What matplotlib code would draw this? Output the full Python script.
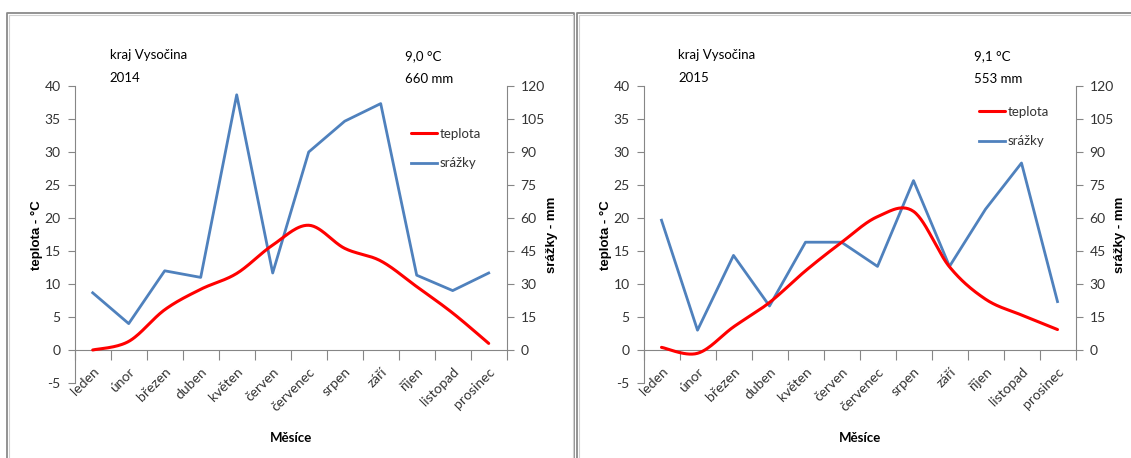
import numpy as np
import matplotlib
matplotlib.use("Agg")
import matplotlib.pyplot as plt
from matplotlib.lines import Line2D

plt.rcParams["axes.unicode_minus"] = False

# Monthly climate data, kraj Vysočina
months = ["leden", "únor", "březen", "duben", "květen", "červen",
          "červenec", "srpen", "září", "říjen", "listopad", "prosinec"]

temp_2014 = [0.0, 1.3, 6.1, 9.2, 11.6, 15.9, 18.9, 15.4, 13.5, 9.6, 5.6, 1.0]
rain_2014 = [26, 12, 36, 33, 116, 35, 90, 104, 112, 34, 27, 35]
temp_2015 = [0.4, -0.5, 3.5, 7.2, 12.0, 16.3, 20.2, 21.0, 12.6, 7.7, 5.3, 3.1]
rain_2015 = [59, 9, 43, 20, 49, 49, 38, 77, 38, 64, 85, 22]

years = ["2014", "2015"]
mean_temp = ["9,0 °C", "9,1 °C"]
total_rain = ["660 mm", "553 mm"]

W, H = 1131, 458
RED = "#FF0000"
BLUE = "#4F81BD"
AXIS_GREY = "#868686"
TXT = "#333333"
FONT = "Lato"
BOLD_FONT = "Liberation Sans"


def smooth(x, y, n=30):
    """Cardinal (Catmull-Rom) Bezier smoothing like office chart 'smoothed line'."""
    x = np.asarray(x, float)
    y = np.asarray(y, float)
    P = np.column_stack([x, y])
    Pe = np.vstack([P[0], P, P[-1]])
    out = []
    t = np.linspace(0, 1, n)[:, None]
    for i in range(len(P) - 1):
        p0, p1, p2, p3 = Pe[i], Pe[i + 1], Pe[i + 2], Pe[i + 3]
        c1 = p1 + (p2 - p0) / 6.0
        c2 = p2 - (p3 - p1) / 6.0
        seg = ((1 - t) ** 3) * p1 + 3 * ((1 - t) ** 2) * t * c1 \
            + 3 * (1 - t) * t ** 2 * c2 + t ** 3 * p2
        out.append(seg if i == 0 else seg[1:])
    s = np.vstack(out)
    return s[:, 0], s[:, 1]


def fx(px):
    return px / W


def fy(py):
    return 1 - py / H


fig = plt.figure(figsize=(W / 100, H / 100), dpi=100)

# panel frames
for (x0, x1) in [(7, 574), (577, 1135)]:
    for off, col, lw in [(0, "#8a8a8a", 1.3), (1.5, "#d0d0d0", 0.8)]:
        fig.add_artist(Line2D([fx(x0 + off), fx(x0 + off), fx(x1 - off), fx(x1 - off)],
                              [fy(470), fy(13 + off), fy(13 + off), fy(470)],
                              color=col, lw=lw, transform=fig.transFigure))

panels = [
    dict(ax_left=74.7, temp=temp_2014, rain=rain_2014, leg=(411, 128)),
    dict(ax_left=643.5, temp=temp_2015, rain=rain_2015, leg=(979, 106)),
]

for k, p in enumerate(panels):
    left = p["ax_left"]
    ax = fig.add_axes([fx(left), fy(383), 432 / W, (383 - 86) / H])
    ax2 = ax.twinx()

    x = np.arange(12)
    sx, sy = smooth(x, p["temp"])
    l1, = ax.plot(sx, sy, color=RED, lw=2.2, solid_capstyle="round", zorder=3,
                  label="teplota")
    l2, = ax2.plot(x, p["rain"], color=BLUE, lw=2.0, zorder=2, label="srážky")

    ax.set_xlim(-0.5, 11.5)
    ax.set_ylim(-5, 40)
    ax2.set_ylim(-15, 120)
    ax.set_zorder(ax2.get_zorder() + 1)
    ax.patch.set_visible(False)

    for a in (ax, ax2):
        for s in a.spines.values():
            s.set_visible(False)

    ax.spines["left"].set_visible(True)
    ax.spines["left"].set_color(AXIS_GREY)
    ax.spines["left"].set_bounds(-5, 40)
    ax.spines["bottom"].set_visible(True)
    ax.spines["bottom"].set_position(("data", 0))
    ax.spines["bottom"].set_color(AXIS_GREY)

    ax.set_yticks(np.arange(-5, 41, 5))
    ax.tick_params(axis="y", direction="out", length=5, width=0.8, color=AXIS_GREY,
                   pad=5, labelsize=10, labelcolor=TXT)

    ax.set_xticks(np.arange(-0.5, 12, 1))
    ax.set_xticklabels([])
    ax.tick_params(axis="x", which="major", direction="out", length=7, width=0.8,
                   color=AXIS_GREY)
    ax.set_xticks(x, minor=True)
    ax.set_xticklabels(months, minor=True, rotation=45, ha="right", va="top",
                       rotation_mode="anchor")
    ax.tick_params(axis="x", which="minor", length=0, pad=11, labelsize=10,
                   labelcolor=TXT)

    ax2.spines["right"].set_visible(True)
    ax2.spines["right"].set_color(AXIS_GREY)
    ax2.spines["right"].set_bounds(0, 120)
    ax2.set_yticks(np.arange(0, 121, 15))
    ax2.tick_params(axis="y", direction="out", length=5, width=0.8, color=AXIS_GREY,
                    pad=5, labelsize=10, labelcolor=TXT)

    for lab in ax.get_yticklabels() + ax2.get_yticklabels() + ax.get_xticklabels(minor=True):
        lab.set_family(FONT)

    # axis titles
    fig.text(fx(left - 38), fy(235), "teplota - °C", rotation=90, ha="center",
             va="center", family=BOLD_FONT, weight="bold", fontsize=9.5)
    fig.text(fx(left + 432 + 45), fy(235), "srážky - mm", rotation=90, ha="center",
             va="center", family=BOLD_FONT, weight="bold", fontsize=9.5)
    fig.text(fx(left + 216), fy(438), "Měsíce", ha="center", va="center",
             family=FONT, weight="bold", fontsize=9.5)

    # region / year and annual summary
    fig.text(fx(left + 35), fy(55), "kraj Vysočina", ha="left", va="center",
             family=FONT, fontsize=9.5)
    fig.text(fx(left + 35), fy(78), years[k], ha="left", va="center",
             family=FONT, fontsize=9.5)
    tx = left + 330
    fig.text(fx(tx), fy(56), mean_temp[k], ha="left", va="center",
             family=FONT, fontsize=9.5)
    fig.text(fx(tx), fy(79), total_rain[k], ha="left", va="center",
             family=FONT, fontsize=9.5)

    lx, ly = p["leg"]
    leg = ax.legend(handles=[l1, l2], loc="upper left",
                    bbox_to_anchor=(fx(lx), fy(ly)), bbox_transform=fig.transFigure,
                    frameon=False, borderpad=0, borderaxespad=0,
                    handlelength=2.0, handletextpad=0.15, labelspacing=1.3,
                    prop=dict(family=FONT, size=9.5))
    for t in leg.get_texts():
        t.set_color(TXT)

fig.savefig("out.png", dpi=100, facecolor="white")
